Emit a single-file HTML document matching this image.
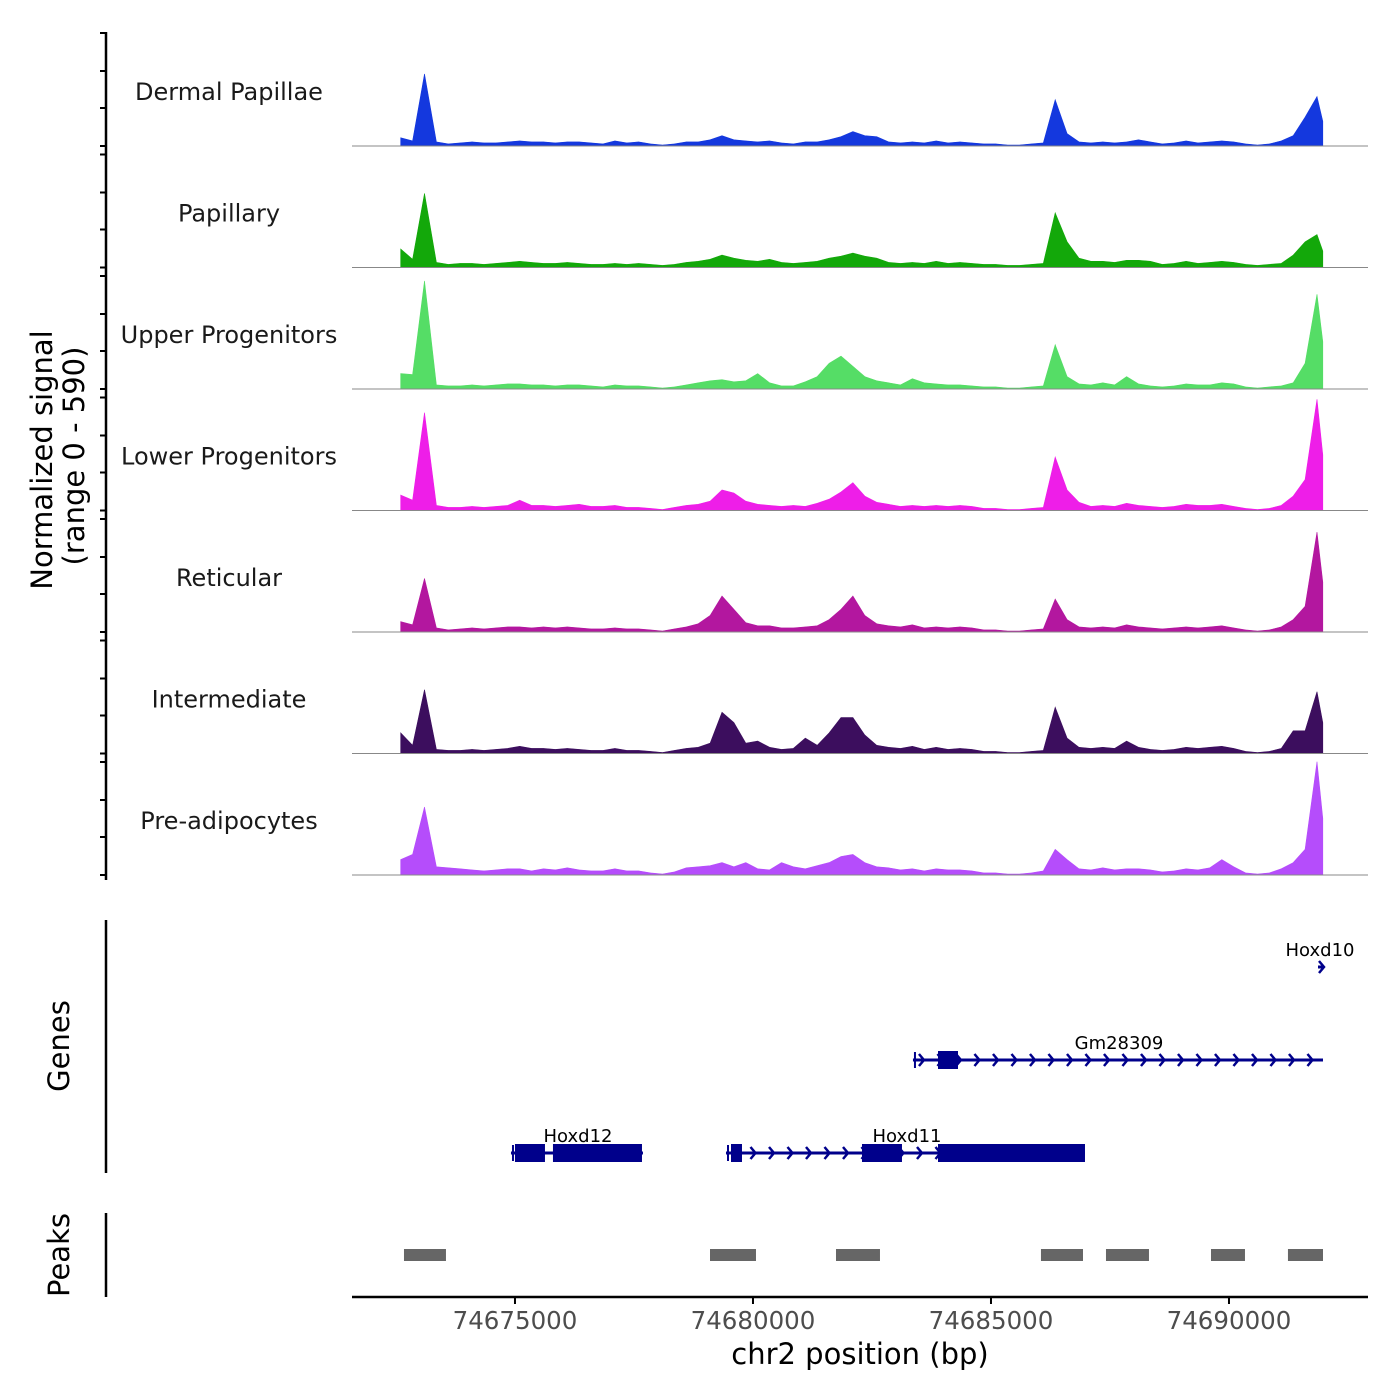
<!DOCTYPE html>
<html><head><meta charset="utf-8">
<style>
html,body{margin:0;padding:0;background:#fff;}
svg{display:block;font-family:"DejaVu Sans","Liberation Sans",sans-serif;}
</style></head>
<body>
<svg id="chart" width="1400" height="1400" viewBox="0 0 1400 1400" xmlns="http://www.w3.org/2000/svg">
<rect width="1400" height="1400" fill="#fff"/>
<g id="tracks"></g>
<g id="genes"></g>
<g id="peaks"></g>
<g id="axes"></g>
<text transform="translate(52,460) rotate(-90)" text-anchor="middle" font-size="29" fill="#000">Normalized signal</text>
<text transform="translate(84,456) rotate(-90)" text-anchor="middle" font-size="29" fill="#000">(range 0 - 590)</text>
<text transform="translate(69,1046) rotate(-90)" text-anchor="middle" font-size="29" fill="#000">Genes</text>
<text transform="translate(69,1255) rotate(-90)" text-anchor="middle" font-size="29" fill="#000">Peaks</text>
<text x="860" y="1364" text-anchor="middle" font-size="29" fill="#000">chr2 position (bp)</text>
</svg>
<script>
const trackNames = ["Dermal Papillae","Papillary","Upper Progenitors","Lower Progenitors","Reticular","Intermediate","Pre-adipocytes"];
const trackColors = ["#1438de","#13a80a","#55dd66","#ee1ee8","#b3179f","#3c0e5e","#b54dfb"];
const binStart = 74672600;
const binWidth = 250;
const dermalPapillae = [40,25,350,20,10,15,20,15,15,20, 25,20,20,15,20,20,15,10,25,15, 20,10,5,10,20,20,30,50,30,25, 20,25,15,10,20,20,30,45,70,50, 45,20,15,20,15,25,15,20,15,10, 10,5,5,10,15,225,60,20,15,20, 15,20,30,20,10,15,25,15,20,25, 20,10,5,10,25,50,140,240];
const papillary = [90,40,360,25,15,20,20,15,20,25, 30,25,20,20,25,20,15,15,20,15, 20,15,10,15,25,30,40,60,45,35, 30,40,25,20,25,30,45,55,70,55, 45,25,20,25,20,30,20,25,20,15, 15,10,10,15,20,265,125,45,30,30, 25,35,35,30,15,20,30,20,25,30, 25,15,10,15,20,60,125,160];
const upperProgenitors = [75,70,525,20,15,15,20,15,20,25, 25,20,20,15,20,20,15,10,20,15, 15,10,5,10,20,30,40,45,35,40, 75,30,15,15,35,60,125,160,110,60, 40,30,20,50,30,25,20,20,15,10, 10,5,5,10,15,215,60,25,20,30, 20,60,25,15,10,15,25,20,20,30, 25,10,5,10,15,30,125,460];
const lowerProgenitors = [75,50,475,25,15,15,20,15,20,25, 50,25,25,20,25,30,20,20,25,15, 15,10,5,15,25,30,45,100,85,45, 30,25,20,25,20,35,55,90,135,70, 40,30,20,25,20,25,20,25,20,10, 10,5,5,10,15,260,100,40,20,25, 20,35,25,20,15,20,30,25,25,30, 20,10,5,10,25,70,150,540];
const reticular = [50,35,260,20,10,15,20,15,20,25, 25,20,25,20,25,20,15,15,20,15, 15,10,5,15,25,40,80,175,110,45, 30,30,20,20,25,30,60,110,175,80, 40,30,25,35,20,25,20,25,20,10, 10,5,5,10,15,160,60,25,20,25, 20,35,25,20,15,20,25,20,25,30, 20,10,5,10,25,60,125,485];
const intermediate = [100,40,310,20,15,15,20,15,20,25, 35,25,25,20,25,20,15,15,25,15, 15,10,5,15,25,30,50,200,150,50, 60,30,20,25,75,40,100,175,175,90, 40,30,25,35,20,30,20,25,20,10, 10,5,5,10,15,225,75,30,25,30, 25,60,30,20,15,20,30,25,30,35, 25,10,5,10,25,110,110,300];
const preAdipocytes = [75,100,330,40,35,30,25,20,25,30, 30,20,30,25,35,25,20,20,30,20, 20,10,5,15,35,40,45,60,40,60, 30,25,60,40,30,45,60,90,100,60, 40,35,25,30,20,30,25,25,20,10, 10,5,5,10,20,125,75,30,25,35, 25,30,30,25,15,20,30,25,35,75, 40,10,5,10,30,60,125,550];
const trackValues = [dermalPapillae,papillary,upperProgenitors,lowerProgenitors,reticular,intermediate,preAdipocytes];
const xTicks = [74675000,74680000,74685000,74690000];
const peakStarts = [74672668,74679097,74681744,74686050,74687416,74689622,74691239];
const peakEnds   = [74673550,74680063,74682668,74686933,74688319,74690336,74691975];
const geneNames  = ["Hoxd10","Gm28309","Hoxd12","Hoxd11"];
const geneStarts = [74691870,74683361,74674916,74679433];
const geneEnds   = [74691975,74691975,74677689,74686975];
const exonStarts = [[],[74683887],[74675000,74675798],[74679538,74682290,74683887]];
const exonEnds   = [[],[74684307],[74675630,74677668],[74679769,74683130,74686975]];
const yMax = 590;

const NS="http://www.w3.org/2000/svg";
const X0=352,X1=1368,BP0=74671576,PXBP=0.0476;
function xs(bp){return X0+(bp-BP0)*PXBP;}
const TH=121.5, BASE0=146;
function ys(v,k){return BASE0+k*TH - v/yMax*TH;}
function mk(tag,attrs,parent){const e=document.createElementNS(NS,tag);for(const a in attrs)e.setAttribute(a,attrs[a]);parent.appendChild(e);return e;}

const gT=document.getElementById('tracks');
trackValues.forEach((vals,k)=>{
  const base=BASE0+k*TH;
  let d="M"+xs(binStart).toFixed(1)+","+base;
  vals.forEach((v,i)=>{d+=" L"+xs(binStart+i*binWidth).toFixed(1)+","+ys(v,k).toFixed(1);});
  const last=binStart+(vals.length-1)*binWidth+120;
  d+=" L"+xs(last).toFixed(1)+","+ys(vals[vals.length-1]*0.5,k).toFixed(1)+" L"+xs(last).toFixed(1)+","+base+" Z";
  const p=mk('path',{d:d,fill:trackColors[k],stroke:trackColors[k],'stroke-width':0.6},gT);
  
  
  const bl=mk('line',{x1:X0,x2:X1,y1:base,y2:base,stroke:'#888','stroke-width':1},gT);
  
  
  const t=mk('text',{x:229,y:base-46,'text-anchor':'middle','font-size':24,fill:'#1a1a1a'},gT);
  t.textContent=trackNames[k];
  
  
});

const gA=document.getElementById('axes');
function line(x1,y1,x2,y2,w,name,par){const l=mk('line',{x1,y1,x2,y2,stroke:'#000','stroke-width':w},par||gA);return l;}
line(106,32,106,880,2.5,'y-axis-line');
for(let k=0;k<7;k++){const b=BASE0+k*TH;[0,38,75,113].forEach(o=>line(100,b-o,106,b-o,2,'y-axis-tick'));}
line(106,920,106,1173,2.5,'genes-axis-line');
line(106,1213,106,1297,2.5,'peaks-axis-line');
line(352,1297,1368,1297,2.5,'x-axis-line');
xTicks.forEach(v=>{
  line(xs(v),1297,xs(v),1304,2,'x-axis-tick');
  const t=mk('text',{x:xs(v),y:1329,'text-anchor':'middle','font-size':24.5,fill:'#4d4d4d'},gA);
  t.textContent=String(v);
  
  
});

const gP=document.getElementById('peaks');
peakStarts.forEach((s,i)=>{
  const r=mk('rect',{x:xs(s),y:1249,width:xs(peakEnds[i])-xs(s),height:12,fill:'#666'},gP);
  
  
});

const gG=document.getElementById('genes');
const geneY=[967,1060,1153,1153];
const labelX=[1320,1119,578,907];
const GC='#00008b';
geneNames.forEach((g,i)=>{
  const y=geneY[i],x1=xs(geneStarts[i]),x2=xs(geneEnds[i]);
  const l=mk('line',{x1,y1:y,x2,y2:y,stroke:GC,'stroke-width':3},gG);
  
  
  if(i>0){const st=mk('line',{x1:x1+2,y1:y-8,x2:x1+2,y2:y+8,stroke:GC,'stroke-width':2},gG);}
  const step=18.5;
  let ax=(i===0)?x2:x1+10;
  for(;ax<=x2+0.5;ax+=step){
    const a=mk('path',{d:`M${ax-4},${y-6} L${ax+1},${y} L${ax-4},${y+6}`,fill:'none',stroke:GC,'stroke-width':2.5},gG);
    
    
  }
  exonStarts[i].forEach((s,j)=>{
    const r=mk('rect',{x:xs(s),y:y-9,width:xs(exonEnds[i][j])-xs(s),height:18,fill:GC},gG);
    
    
  });
  const t=mk('text',{x:labelX[i],y:y-11,'text-anchor':'middle','font-size':18,fill:'#000'},gG);
  t.textContent=g;
  
  
});
</script>
</body></html>
